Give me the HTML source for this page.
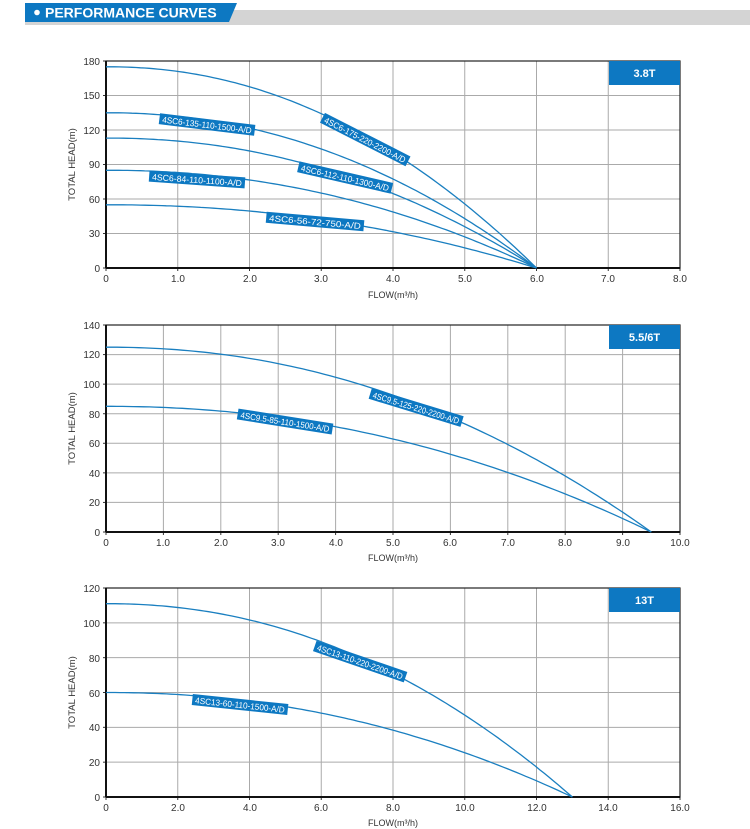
<!DOCTYPE html>
<html><head><meta charset="utf-8"><style>
body{margin:0;background:#fff;}
svg{display:block;font-family:"Liberation Sans",Arial,sans-serif;}
.t{font-size:10px;fill:#333;}
.g{stroke:#aaa;stroke-width:1;}
.c{fill:none;stroke:#1a7fc0;stroke-width:1.3;}
.lb{font-size:8.6px;fill:#fff;}
</style></head><body>
<svg id="s" width="750" height="829" xmlns="http://www.w3.org/2000/svg">
<polygon points="230,10 750,10 750,25 224,25" fill="#d4d4d4"/>
<rect x="25" y="22" width="210" height="3" fill="#d4d4d4"/>
<polygon points="25,3 237,3 229,22 25,22" fill="#0d78c2"/>
<circle cx="37" cy="12.5" r="2.8" fill="#fff"/>
<text x="45" y="17.5" font-size="14" font-weight="bold" fill="#fff">PERFORMANCE CURVES</text>

<g id="grids"></g>
<g id="curves"></g>

<g class="t" text-anchor="end">
<text x="100" y="65">180</text><text x="100" y="99">150</text><text x="100" y="134">120</text><text x="100" y="168">90</text><text x="100" y="203">60</text><text x="100" y="237">30</text><text x="100" y="272">0</text>
</g>
<g class="t" text-anchor="middle">
<text x="106" y="282">0</text><text x="178" y="282">1.0</text><text x="250" y="282">2.0</text><text x="321" y="282">3.0</text><text x="393" y="282">4.0</text><text x="465" y="282">5.0</text><text x="537" y="282">6.0</text><text x="608" y="282">7.0</text><text x="680" y="282">8.0</text>
<text x="393" y="298" font-size="9">FLOW(m³/h)</text>
<text transform="translate(75,164.5) rotate(-90)" font-size="9.5">TOTAL HEAD(m)</text>
</g>
<rect x="609" y="61" width="71" height="24" fill="#0d78c2"/>
<text x="644.5" y="77" text-anchor="middle" font-size="11" font-weight="bold" fill="#fff">3.8T</text>

<g class="t" text-anchor="end">
<text x="100" y="329">140</text><text x="100" y="358">120</text><text x="100" y="388">100</text><text x="100" y="418">80</text><text x="100" y="447">60</text><text x="100" y="477">40</text><text x="100" y="506">20</text><text x="100" y="536">0</text>
</g>
<g class="t" text-anchor="middle">
<text x="106" y="546">0</text><text x="163" y="546">1.0</text><text x="221" y="546">2.0</text><text x="278" y="546">3.0</text><text x="336" y="546">4.0</text><text x="393" y="546">5.0</text><text x="450" y="546">6.0</text><text x="508" y="546">7.0</text><text x="565" y="546">8.0</text><text x="623" y="546">9.0</text><text x="680" y="546">10.0</text>
<text x="393" y="561" font-size="9">FLOW(m³/h)</text>
<text transform="translate(75,428.5) rotate(-90)" font-size="9.5">TOTAL HEAD(m)</text>
</g>
<rect x="609" y="325" width="71" height="24" fill="#0d78c2"/>
<text x="644.5" y="341" text-anchor="middle" font-size="11" font-weight="bold" fill="#fff">5.5/6T</text>

<g class="t" text-anchor="end">
<text x="100" y="592">120</text><text x="100" y="627">100</text><text x="100" y="662">80</text><text x="100" y="697">60</text><text x="100" y="731">40</text><text x="100" y="766">20</text><text x="100" y="801">0</text>
</g>
<g class="t" text-anchor="middle">
<text x="106" y="811">0</text><text x="178" y="811">2.0</text><text x="250" y="811">4.0</text><text x="321" y="811">6.0</text><text x="393" y="811">8.0</text><text x="465" y="811">10.0</text><text x="537" y="811">12.0</text><text x="608" y="811">14.0</text><text x="680" y="811">16.0</text>
<text x="393" y="826" font-size="9">FLOW(m³/h)</text>
<text transform="translate(75,692.5) rotate(-90)" font-size="9.5">TOTAL HEAD(m)</text>
</g>
<rect x="609" y="588" width="71" height="24" fill="#0d78c2"/>
<text x="644.5" y="604" text-anchor="middle" font-size="11" font-weight="bold" fill="#fff">13T</text>

<g transform="translate(365,140) rotate(27)"><rect x="-48" y="-6" width="96" height="11" fill="#0d78c2"/><text class="lb" x="-45" y="3" textLength="90" lengthAdjust="spacingAndGlyphs">4SC6-175-220-2200-A/D</text></g>
<g transform="translate(207,125) rotate(7)"><rect x="-48" y="-6" width="96" height="11" fill="#0d78c2"/><text class="lb" x="-45" y="3" textLength="90" lengthAdjust="spacingAndGlyphs">4SC6-135-110-1500-A/D</text></g>
<g transform="translate(345,178) rotate(13)"><rect x="-48" y="-6" width="96" height="11" fill="#0d78c2"/><text class="lb" x="-45" y="3" textLength="90" lengthAdjust="spacingAndGlyphs">4SC6-112-110-1300-A/D</text></g>
<g transform="translate(197,180) rotate(4)"><rect x="-48" y="-6" width="96" height="11" fill="#0d78c2"/><text class="lb" x="-45" y="3" textLength="90" lengthAdjust="spacingAndGlyphs">4SC6-84-110-1100-A/D</text></g>
<g transform="translate(315,222) rotate(5)"><rect x="-49" y="-6" width="98" height="11" fill="#0d78c2"/><text class="lb" x="-46" y="3" textLength="92" lengthAdjust="spacingAndGlyphs">4SC6-56-72-750-A/D</text></g>
<g transform="translate(416,408) rotate(17)"><rect x="-48" y="-6" width="96" height="11" fill="#0d78c2"/><text class="lb" x="-45" y="3" textLength="90" lengthAdjust="spacingAndGlyphs">4SC9.5-125-220-2200-A/D</text></g>
<g transform="translate(285,422) rotate(9)"><rect x="-48" y="-6" width="96" height="11" fill="#0d78c2"/><text class="lb" x="-45" y="3" textLength="90" lengthAdjust="spacingAndGlyphs">4SC9.5-85-110-1500-A/D</text></g>
<g transform="translate(360,662) rotate(19)"><rect x="-48" y="-6" width="96" height="11" fill="#0d78c2"/><text class="lb" x="-45" y="3" textLength="90" lengthAdjust="spacingAndGlyphs">4SC13-110-220-2200-A/D</text></g>
<g transform="translate(240,705) rotate(6)"><rect x="-48" y="-6" width="96" height="11" fill="#0d78c2"/><text class="lb" x="-45" y="3" textLength="90" lengthAdjust="spacingAndGlyphs">4SC13-60-110-1500-A/D</text></g>
</svg>
<script>
var NS="http://www.w3.org/2000/svg";
var G=document.getElementById("grids"),C=document.getElementById("curves");
function el(p,n,a){var e=document.createElementNS(NS,n);for(var k in a)e.setAttribute(k,a[k]);p.appendChild(e);return e;}
var charts=[
 {top:61,bot:268,nx:8,xmax:8,ymax:180,ny:6,curves:[[175,6],[135,6],[113,6],[85,6],[55,6]]},
 {top:325,bot:532,nx:10,xmax:10,ymax:140,ny:7,curves:[[125,9.5],[85,9.5]]},
 {top:588,bot:797,nx:8,xmax:16,ymax:120,ny:6,curves:[[111,13],[60,13]]}
];
charts.forEach(function(c){
 var L=106,R=680,h=c.bot-c.top;
 for(var i=1;i<c.nx;i++){var x=L+(R-L)*i/c.nx;el(G,"line",{x1:x,x2:x,y1:c.top,y2:c.bot,"class":"g"});}
 for(var j=1;j<c.ny;j++){var y=c.top+h*j/c.ny;el(G,"line",{x1:L,x2:R,y1:y,y2:y,"class":"g"});}
 for(var i=0;i<=c.nx;i++){var x=L+(R-L)*i/c.nx;el(G,"line",{x1:x,x2:x,y1:c.bot,y2:c.bot+3,stroke:"#333"});}
 for(var j=0;j<=c.ny;j++){var y=c.top+h*j/c.ny;el(G,"line",{x1:L-3,x2:L,y1:y,y2:y,stroke:"#333"});}
 el(G,"rect",{x:L,y:c.top,width:R-L,height:h,fill:"none",stroke:"#222","stroke-width":1.2});
 el(G,"line",{x1:L,x2:L,y1:c.top,y2:c.bot,stroke:"#111","stroke-width":2});
 el(G,"line",{x1:L,x2:R,y1:c.bot,y2:c.bot,stroke:"#111","stroke-width":2});
 c.curves.forEach(function(cv){
  var d="";for(var k=0;k<=100;k++){var q=cv[1]*k/100;var H=cv[0]*(1-Math.pow(q/cv[1],2.1));
   var x=L+(R-L)*q/c.xmax,y=c.bot-h*H/c.ymax;d+=(k?"L":"M")+x.toFixed(1)+","+y.toFixed(1);}
  el(C,"path",{d:d,"class":"c"});
 });
});
</script>
</body></html>
